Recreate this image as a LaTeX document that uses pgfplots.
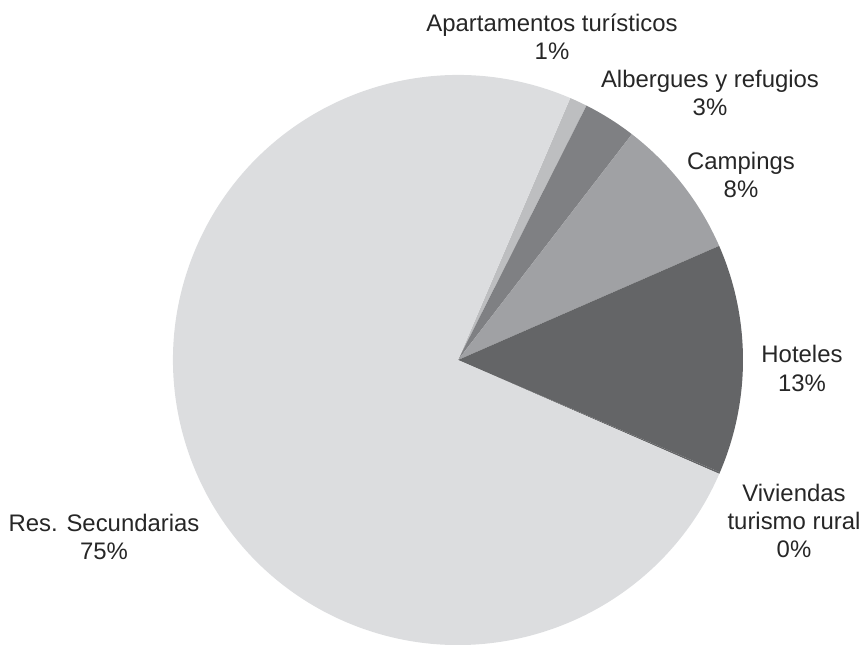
\documentclass[border=0pt]{standalone}
\usepackage{pgfplots}
\pgfplotsset{compat=1.18}
\usepackage{pgfplotstable}
\usepackage{fontspec}
\setmainfont{Liberation Sans}
\definecolor{c0}{HTML}{BDBEC0}
\definecolor{c1}{HTML}{7F8083}
\definecolor{c2}{HTML}{A0A1A4}
\definecolor{c3}{HTML}{646567}
\definecolor{c4}{HTML}{646567}
\definecolor{c5}{HTML}{DCDDDF}
\pgfplotstableread[col sep=comma]{
name,value
Apartamentos,1.0
Albergues,3.0
Campings,8.0
Hoteles,13.0
Viviendas,0.1
Res,74.9
}\piedata
\begin{document}
\begin{tikzpicture}
\useasboundingbox (0,0) rectangle (863bp,645bp);
\def\cum{0}
\pgfplotsforeachungrouped \i in {0,...,5}{%
 \pgfplotstablegetelem{\i}{value}\of\piedata
 \pgfmathsetmacro\sa{66.8-\cum*3.6}%
 \pgfmathsetmacro\cum{\cum+\pgfplotsretval}%
 \pgfmathsetmacro\ea{66.8-\cum*3.6}%
 \expandafter\xdef\csname sa\i\endcsname{\sa}%
 \expandafter\xdef\csname ea\i\endcsname{\ea}%
}
\begin{axis}[at={(0,0)},anchor=south west,
  scale only axis, width=863bp, height=645bp,
  xmin=0, xmax=863, ymin=0, ymax=645,
  hide axis, clip=false]
\pgfplotsinvokeforeach{0,...,5}{
  \fill[c#1] (axis cs:458,285) -- ++(\csname sa#1\endcsname:285bp)
    arc[start angle=\csname sa#1\endcsname, end angle=\csname ea#1\endcsname, radius=285bp] -- cycle;
}
\begin{scope}[every node/.style={align=center, text=black!85, font=\fontsize{24}{28.5}\selectfont}]
\node at (axis cs:552,608.5) {Apartamentos turísticos\\1\%};
\node at (axis cs:710,552) {Albergues y refugios\\3\%};
\node at (axis cs:741,470) {Campings\\8\%};
\node at (axis cs:802,276.5) {Hoteles\\13\%};
\node at (axis cs:794,124) {Viviendas\\turismo rural\\0\%};
\node at (axis cs:104,108) {Res. Secundarias\\75\%};
\end{scope}
\end{axis}
\end{tikzpicture}
\end{document}
